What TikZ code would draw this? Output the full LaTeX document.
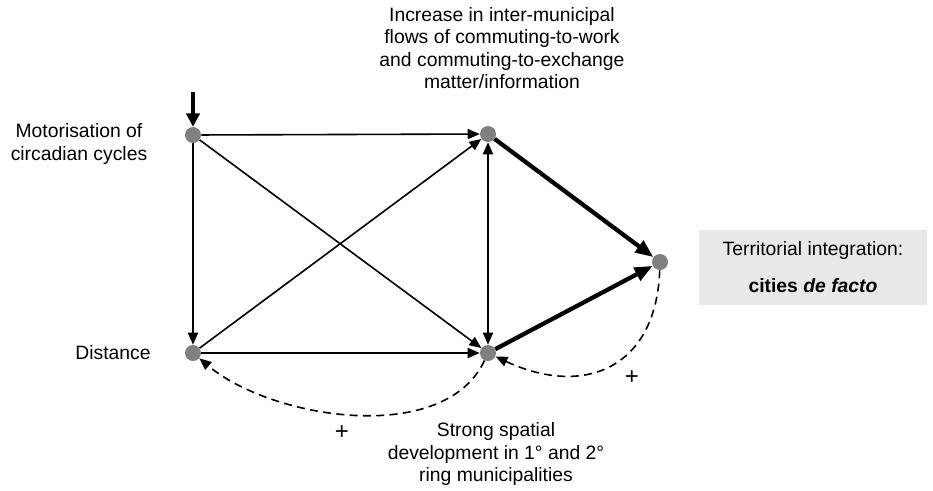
\documentclass[tikz,border=0pt]{standalone}
\usepackage{fontspec}
\setmainfont{Liberation Sans}
\usepackage{xcolor}
\usetikzlibrary{arrows.meta,positioning}
\definecolor{dotgray}{RGB}{128,128,128}
\definecolor{boxgray}{RGB}{232,232,232}
\tikzstyle{node}=[circle, fill=dotgray, minimum size=12pt, inner sep=0pt]
\tikzstyle{legend}=[align=center, font=\fontsize{14.5}{16.8}\selectfont]
\tikzset{x=.75pt}
\tikzset{y=-.75pt}
\tikzset{link/.style={-{Triangle[length=9pt,width=7.5pt]}, line width=1.2pt}}
\tikzset{strong/.style={-{Triangle[length=13.5pt,width=10.5pt]}, line width=3.2pt}}
\tikzset{entry/.style={-{Triangle[length=10pt,width=10pt]}, line width=2.4pt}}
\tikzset{feedback/.style={link, dash pattern=on 6pt off 4pt}}

\begin{document}
\begin{tikzpicture}
  \useasboundingbox (0,0) rectangle (933,490);
  \draw (193,135) node[node] (MC) {};
  \draw (193,353) node[node] (D) {};
  \draw (488,134) node[node] (F) {};
  \draw (488,353) node[node] (S) {};
  \draw (660,262) node[node] (T) {};
  \coordinate (in) at (193,92);

  \draw[entry] (in) -- (MC);
  \draw[link] (MC) -- (F);
  \draw[link] (MC) -- (D);
  \draw[link] (MC) -- (S);
  \draw[link] (D) -- (F);
  \draw[link] (D) -- (S);
  \draw[link,{Triangle[length=9pt,width=7.5pt]}-{Triangle[length=9pt,width=7.5pt]}] (F) -- (S);
  \draw[strong] (F) -- (T);
  \draw[strong] (S) -- (T);

  %% feedback loops
  \draw[feedback] (S) to[out=-115,in=-40,looseness=0.85] (D);
  \draw[feedback] (T) to[out=-92,in=-25,looseness=1.35] (S);
  \draw (342,433) node[legend, font=\fontsize{18}{18}\selectfont] (p1) {+};
  \draw (632,378) node[legend, font=\fontsize{18}{18}\selectfont] (p2) {+};

  %% labels
  \draw (502,48) node[legend] (lF) {Increase in inter-municipal\\flows of commuting-to-work\\and commuting-to-exchange\\matter/information};
  \draw (79,144) node[legend] (lMC) {Motorisation of\\circadian cycles};
  \draw (113,353) node[legend] (lD) {Distance};
  \draw (496,454) node[legend] (lS) {Strong spatial\\development in 1° and 2°\\ring municipalities};
  \draw (813,267.5) node[legend, fill=boxgray, minimum width=171pt, minimum height=56pt] (lT) {Territorial integration:\\[11pt]\textbf{cities \textit{de facto}}};
\end{tikzpicture}
\end{document}
